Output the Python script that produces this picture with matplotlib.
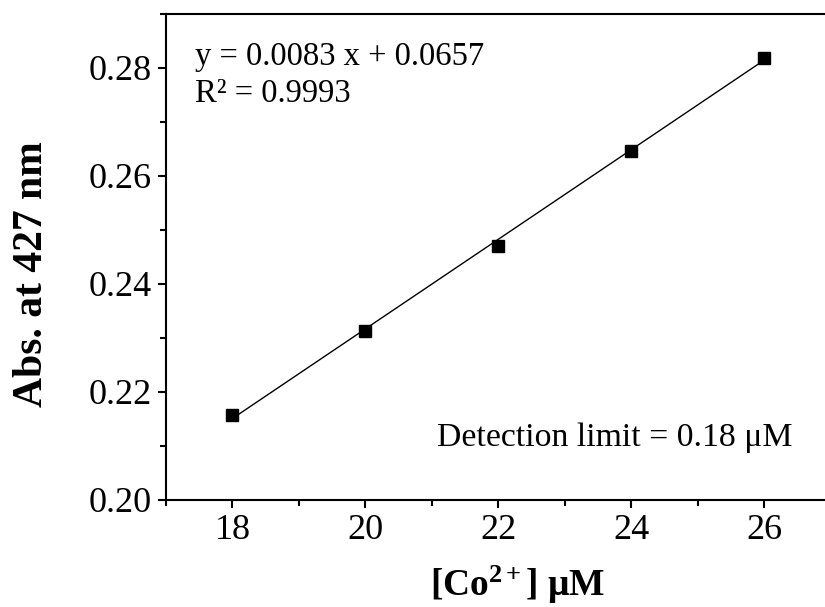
import matplotlib
matplotlib.use("Agg")
import matplotlib.pyplot as plt
import numpy as np
from matplotlib.ticker import MultipleLocator

plt.rcParams['font.family'] = ['Liberation Serif', 'DejaVu Serif']
plt.rcParams['mathtext.fontset'] = 'custom'
plt.rcParams['mathtext.rm'] = 'Liberation Serif'
plt.rcParams['mathtext.bf'] = 'Liberation Serif:bold'
plt.rcParams['mathtext.it'] = 'Liberation Serif:italic'

conc = [18, 20, 22, 24, 26]
absorb = [0.2157, 0.2313, 0.2471, 0.2647, 0.2818]
slope = 0.0083
intercept = 0.0657
eq_text = "y = 0.0083 x + 0.0657"
r2_text = "R² = 0.9993"
lod_text = "Detection limit = 0.18 μM"

fig = plt.figure(figsize=(8.25, 6.07), dpi=100)
ax = fig.add_axes([166/825, 107/607, 665/825, 486/607])

xf = np.array([conc[0], conc[-1]])
ax.plot(xf, slope * xf + intercept, color='black', lw=1.0)
ax.plot(conc, absorb, 's', color='black', markersize=8.5)

ax.set_xlim(17, 27)
ax.set_ylim(0.20, 0.29)
ax.xaxis.set_major_locator(MultipleLocator(2))
ax.xaxis.set_minor_locator(MultipleLocator(1))
ax.yaxis.set_major_locator(MultipleLocator(0.02))
ax.yaxis.set_minor_locator(MultipleLocator(0.01))
ax.yaxis.set_major_formatter(matplotlib.ticker.FormatStrFormatter('%.2f'))

for s in ax.spines.values():
    s.set_linewidth(1.5)
ax.tick_params(which='major', direction='out', length=6, width=1.5, labelsize=26, pad=4)
ax.tick_params(which='minor', direction='out', length=4, width=1.5)
ax.tick_params(top=False, right=False)

ax.set_xlabel(r"[Co$^{\mathbf{2+}}$] μM", fontsize=27, fontweight='bold', labelpad=12)
ax.xaxis.label.set_x(0.529)
ax.set_ylabel("Abs. at 427 nm", fontsize=30, fontweight='bold', labelpad=27)
ax.yaxis.label.set_y(0.465)

ax.text(195, 607-65, eq_text, transform=None, fontsize=23.5, ha='left', va='baseline')
ax.text(195, 607-102, r2_text, transform=None, fontsize=23.5, ha='left', va='baseline')
ax.text(437, 607-446, lod_text, transform=None, fontsize=24.3, ha='left', va='baseline')

fig.savefig("out.png", dpi=100)
